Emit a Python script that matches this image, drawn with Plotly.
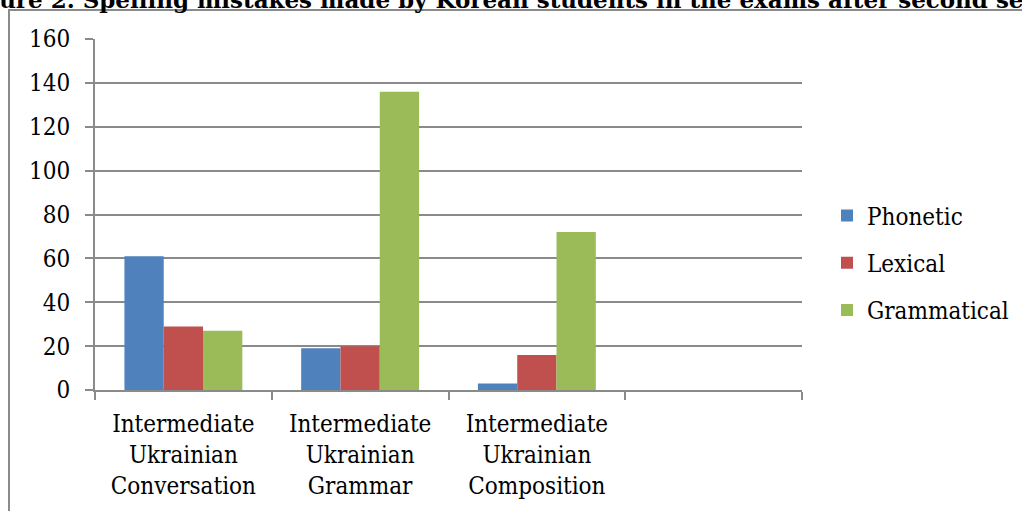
import plotly.graph_objects as go

categories = [
    "Intermediate<br>Ukrainian<br>Conversation",
    "Intermediate<br>Ukrainian<br>Grammar",
    "Intermediate<br>Ukrainian<br>Composition",
    " ",
]
phonetic = [61, 19, 3, None]
lexical = [29, 20, 16, None]
grammatical = [27, 136, 72, None]
series_names = ["Phonetic", "Lexical", "Grammatical"]
colors = ["#4F81BD", "#C0504D", "#9BBB59"]
y_ticks = [0, 20, 40, 60, 80, 100, 120, 140, 160]
title_text = "Figure 2. Spelling mistakes made by Korean students in the exams after second semester"

W, H = 1022, 511
L, R, T, B = 95, 220, 39, 121
pw, ph = W - L - R, H - T - B

def px_x(p):
    return (p - L) / pw

def px_y(p):
    return (H - B - p) / ph

FONT = "DejaVu Serif Condensed, DejaVu Serif, serif"

fig = go.Figure()
for i, (name, vals) in enumerate(zip(series_names, [phonetic, lexical, grammatical])):
    fig.add_trace(go.Bar(
        x=categories, y=vals, name=name,
        marker=dict(color=colors[i], line=dict(width=0)),
        legendgroup=name,
    ))

fig.update_layout(
    width=W, height=H,
    margin=dict(l=L, r=R, t=T, b=B, autoexpand=False),
    paper_bgcolor="white", plot_bgcolor="white",
    barmode="group", bargap=0.333, bargroupgap=0,
    font=dict(family=FONT, size=24, color="#000000"),
    showlegend=True,
    legend=dict(
        x=px_x(827), xanchor="left", y=px_y(263), yanchor="middle",
        font=dict(family=FONT, size=24, color="#000000"),
        tracegroupgap=13, bgcolor="rgba(0,0,0,0)",
        itemclick=False,
    ),
    xaxis=dict(
        type="category", categoryorder="array", categoryarray=categories,
        range=[-0.5, 3.5],
        showline=True, linecolor="#8A8A8A", linewidth=2,
        ticks="outside", ticklen=8, tickwidth=2, tickcolor="#8A8A8A",
        tickson="boundaries", showgrid=False,
        tickfont=dict(family=FONT, size=24, color="#000000"),
        ticklabelstandoff=11,
    ),
    yaxis=dict(
        range=[0, 160], tickvals=y_ticks,
        showline=True, linecolor="#8A8A8A", linewidth=2,
        ticks="outside", ticklen=8, tickwidth=2, tickcolor="#8A8A8A",
        showgrid=True, gridcolor="#8A8A8A", gridwidth=2,
        zeroline=False,
        tickfont=dict(family=FONT, size=24, color="#000000"),
        ticklabelstandoff=10,
    ),
    shapes=[
        dict(type="rect", xref="paper", yref="paper",
             x0=px_x(9), x1=px_x(1040), y0=px_y(530), y1=px_y(10),
             line=dict(color="#8A8A8A", width=2), fillcolor="rgba(0,0,0,0)",
             layer="below"),
    ],
    annotations=[
        dict(text="<b>" + title_text + "</b>", xref="paper", yref="paper",
             x=px_x(-44), xanchor="left", y=px_y(15), yanchor="bottom",
             showarrow=False,
             font=dict(family="DejaVu Serif, serif", size=23, color="#000000")),
    ],
)

fig.write_html("out.html")
